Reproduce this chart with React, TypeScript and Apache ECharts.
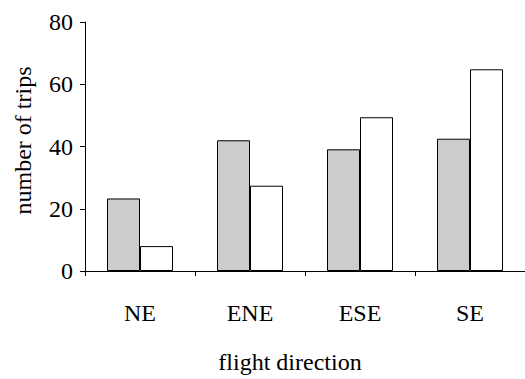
import React, { useEffect, useRef } from "react";
import * as echarts from "echarts";

const categories = ["NE", "ENE", "ESE", "SE"];
const greyValues = [23.3, 42.0, 39.1, 42.5];
const whiteValues = [8.0, 27.4, 49.4, 64.8];
const yTicks = { min: 0, max: 80, interval: 20 };

export default function App() {
  const ref = useRef<HTMLDivElement>(null);
  useEffect(() => {
    if (!ref.current) return;
    const chart = echarts.init(ref.current, null, { renderer: "svg" });
    const font = "'Liberation Serif', 'Times New Roman', serif";
    chart.setOption({
      animation: false,
      backgroundColor: "#ffffff",
      textStyle: { fontFamily: font },
      grid: { left: 85, top: 22, right: 0, bottom: 105 },
      xAxis: {
        type: "category",
        data: categories,
        name: "flight direction",
        nameLocation: "middle",
        nameGap: 79,
        nameTextStyle: { fontFamily: font, fontSize: 24, color: "#000", padding: [0, 30, 0, 0] },
        axisLine: { lineStyle: { color: "#000", width: 1 } },
        axisTick: { show: true, length: 5, inside: false, lineStyle: { color: "#000" } },
        axisLabel: { fontFamily: font, fontSize: 24, color: "#000", margin: 30 },
      },
      yAxis: {
        type: "value",
        min: yTicks.min,
        max: yTicks.max,
        interval: yTicks.interval,
        name: "number of trips",
        nameLocation: "middle",
        nameGap: 50,
        nameTextStyle: { fontFamily: font, fontSize: 24, color: "#000", padding: [0, 0, 0, 12] },
        splitLine: { show: false },
        axisLine: { show: true, lineStyle: { color: "#000", width: 1 } },
        axisTick: { show: true, length: 5, lineStyle: { color: "#000" } },
        axisLabel: { fontFamily: font, fontSize: 24, color: "#000", margin: 12 },
      },
      series: [
        {
          type: "bar",
          data: greyValues,
          barWidth: 33,
          barGap: "0%",
          itemStyle: { color: "#cccccc", borderColor: "#000", borderWidth: 1 },
        },
        {
          type: "bar",
          data: whiteValues,
          barWidth: 33,
          barGap: "0%",
          itemStyle: { color: "#ffffff", borderColor: "#000", borderWidth: 1 },
        },
      ],
    });
    return () => chart.dispose();
  }, []);
  return <div ref={ref} style={{ width: 525, height: 379, position: "absolute", left: 0, top: 0 }} />;
}
